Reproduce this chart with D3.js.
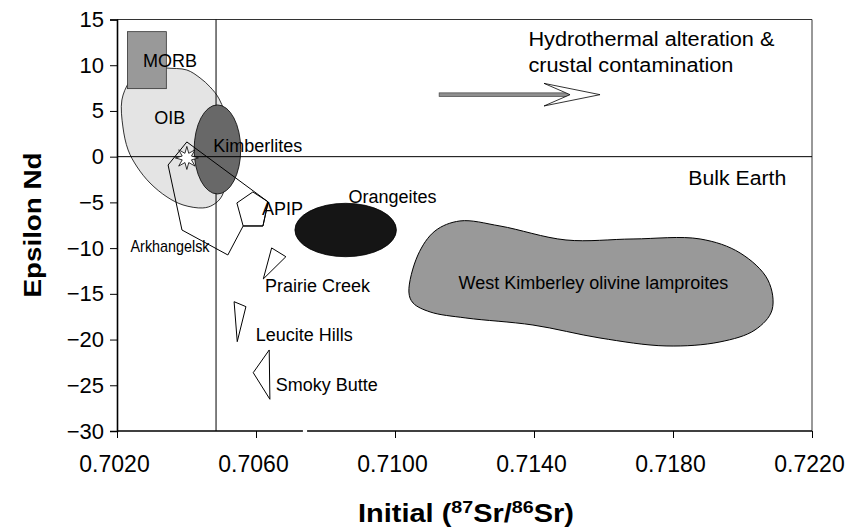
<!DOCTYPE html>
<html>
<head>
<meta charset="utf-8">
<script src="https://cdn.jsdelivr.net/npm/d3@7"></script>
<style>
body{margin:0;background:#fff;}
svg text{font-family:"Liberation Sans",Arial,sans-serif;fill:#000;}
</style>
</head>
<body>
<div id="chart"></div>
<script>
// axes
var srTicks=[0.7020,0.7060,0.7100,0.7140,0.7180,0.7220];
var ndTicks=[15,10,5,0,-5,-10,-15,-20,-25,-30];
var bulkEarthSr=0.70485;
var bulkEarthNd=0;
var axisGap=[0.70735,0.70747];

// fields  [87Sr/86Sr, eNd]
var morb=[[0.70230,7.44],[0.70342,13.67]];
var oib=[[0.70266,9.48],[0.70300,9.92],[0.70341,9.70],[0.70401,9.48],[0.70439,8.61],[0.70468,7.62],
  [0.70494,6.31],[0.70519,3.47],[0.70522,-0.36],[0.70502,-4.30],[0.70476,-5.28],[0.70447,-5.61],
  [0.70390,-5.28],[0.70344,-4.41],[0.70295,-2.88],[0.70258,-1.13],[0.70232,0.73],[0.70217,3.25],
  [0.70214,6.20],[0.70235,8.17]];
var kimberlites={sr:0.70489,nd:0.79,dSr:0.00067,dNd:4.87};
var orangeites={sr:0.70858,nd:-8.02,dSr:0.00146,dNd:2.92};
var westKimberley=[[0.71040,-14.80],[0.71066,-10.75],[0.71115,-8.13],[0.71187,-7.03],[0.71302,-7.58],
  [0.71492,-9.11],[0.71685,-9.00],[0.71878,-9.00],[0.71993,-10.53],[0.72073,-13.48],[0.72085,-16.77],
  [0.72036,-18.95],[0.71935,-20.26],[0.71780,-20.70],[0.71590,-19.83],[0.71397,-18.41],[0.71204,-17.64],
  [0.71101,-16.98],[0.71052,-16.00]];
var arkhangelsk=[[0.70401,1.61],[0.70635,-4.95],[0.70620,-7.58],[0.70563,-7.58],[0.70519,-10.75],[0.70387,-8.02],[0.70347,-0.91]];
var apip=[[0.70545,-5.06],[0.70591,-3.86],[0.70635,-4.95],[0.70620,-7.58],[0.70563,-7.58]];
var prairieCreek=[[0.70645,-9.98],[0.70686,-10.94],[0.70621,-13.37]];
var leuciteHills=[[0.70537,-15.86],[0.70571,-16.40],[0.70546,-20.23]];
var smokyButte=[[0.70638,-21.14],[0.70592,-23.62],[0.70640,-26.53]];
var starPoint=[0.70401,-0.14];
var arrowFrom=[0.71127,6.78];
var arrowTo=[0.71590,6.78];

// labels [text, sr, eNd]
var fieldLabels=[["MORB",0.70275,9.81],["OIB",0.70307,3.58],["Kimberlites",0.70477,0.55],["APIP",0.70617,-6.38],
  ["Orangeites",0.70866,-5.03],["Prairie Creek",0.70626,-14.80],["Leucite Hills",0.70599,-20.16],
  ["Smoky Butte",0.70657,-25.62],["West Kimberley olivine lamproites",0.71183,-14.50]];
var arkLabel=["Arkhangelsk",0.70239,-10.39];
var bigLabels=[["Hydrothermal alteration &",0.71384,12.14],["crustal contamination",0.71384,9.30],["Bulk Earth",0.71844,-3.09]];

var width=847,height=528;
var x=d3.scaleLinear().domain([0.702,0.722]).range([117,812]);
var y=d3.scaleLinear().domain([-30,15]).range([431,19.5]);

var svg=d3.select("#chart").append("svg").attr("width",width).attr("height",height);

var line=d3.line().x(function(d){return x(d[0]);}).y(function(d){return y(d[1]);});

// OIB
svg.append("path").attr("d",line.curve(d3.curveCatmullRomClosed.alpha(0.5))(oib))
  .style("fill","#e4e4e4").style("stroke","#000").style("stroke-width",0.8);

// MORB
svg.append("rect")
  .attr("x",x(morb[0][0])).attr("y",y(morb[1][1]))
  .attr("width",x(morb[1][0])-x(morb[0][0])).attr("height",y(morb[0][1])-y(morb[1][1]))
  .style("fill","#999").style("stroke","#333").style("stroke-width",0.8);

// frame + reference lines
svg.append("line").attr("x1",x(0.702)).attr("x2",x(0.722)).attr("y1",y(15)).attr("y2",y(15)).style("stroke","#333").style("stroke-width",1);
svg.append("line").attr("x1",x(0.722)).attr("x2",x(0.722)).attr("y1",y(15)).attr("y2",y(-30)).style("stroke","#333").style("stroke-width",1);
svg.append("line").attr("x1",x(bulkEarthSr)).attr("x2",x(bulkEarthSr)).attr("y1",y(15)).attr("y2",y(-30)).style("stroke","#000").style("stroke-width",1);

// Kimberlites
svg.append("ellipse").attr("cx",x(kimberlites.sr)).attr("cy",y(kimberlites.nd))
  .attr("rx",x(kimberlites.sr+kimberlites.dSr)-x(kimberlites.sr))
  .attr("ry",y(kimberlites.nd-kimberlites.dNd)-y(kimberlites.nd))
  .style("fill","#686868").style("stroke","#000").style("stroke-width",0.8);

svg.append("line").attr("x1",x(0.702)).attr("x2",x(0.722)).attr("y1",y(bulkEarthNd)).attr("y2",y(bulkEarthNd)).style("stroke","#000").style("stroke-width",1);

// Orangeites
svg.append("ellipse").attr("cx",x(orangeites.sr)).attr("cy",y(orangeites.nd))
  .attr("rx",x(orangeites.sr+orangeites.dSr)-x(orangeites.sr))
  .attr("ry",y(orangeites.nd-orangeites.dNd)-y(orangeites.nd))
  .style("fill","#151515").style("stroke","#000").style("stroke-width",0.8);

// West Kimberley
svg.append("path").attr("d",line.curve(d3.curveCatmullRomClosed.alpha(0.5))(westKimberley))
  .style("fill","#999").style("stroke","#000").style("stroke-width",1);

// outline polygons
line.curve(d3.curveLinearClosed);
[arkhangelsk,apip,prairieCreek,leuciteHills,smokyButte].forEach(function(p){
  svg.append("path").attr("d",line(p)).style("fill","none").style("stroke","#000").style("stroke-width",1);
});

// star
var starPts=d3.range(16).map(function(i){return [i*Math.PI/8, i%2?5:11.5];});
svg.append("path")
  .attr("transform","translate("+x(starPoint[0])+","+y(starPoint[1])+")")
  .attr("d",d3.lineRadial().curve(d3.curveLinearClosed)(starPts))
  .style("fill","#fff").style("stroke","#000").style("stroke-width",0.8);

// arrow
var ax1=x(arrowFrom[0]),ax2=x(arrowTo[0]),ay=y(arrowTo[1]);
svg.append("rect").attr("x",ax1).attr("y",ay-1.8).attr("width",ax2-30-ax1).attr("height",3.6)
  .style("fill","#8f8f8f").style("stroke","#444").style("stroke-width",0.7);
svg.append("path")
  .attr("d","M"+(ax2-56)+","+(ay-11.3)+"L"+ax2+","+ay+"L"+(ax2-56)+","+(ay+11.3)+"L"+(ax2-30)+","+ay+"Z")
  .style("fill","#fff").style("stroke","#000").style("stroke-width",0.8);

// labels
svg.selectAll(".flab").data(fieldLabels).enter().append("text").attr("class","flab")
  .attr("x",function(d){return x(d[1]);}).attr("y",function(d){return y(d[2]);})
  .style("font-size","18px").text(function(d){return d[0];});
svg.append("text").attr("x",x(arkLabel[1])).attr("y",y(arkLabel[2]))
  .attr("textLength",79).attr("lengthAdjust","spacingAndGlyphs")
  .style("font-size","17px").text(arkLabel[0]);
var bigW={"Hydrothermal alteration &":246,"crustal contamination":205,"Bulk Earth":98};
svg.selectAll(".blab").data(bigLabels).enter().append("text").attr("class","blab")
  .attr("x",function(d){return x(d[1]);}).attr("y",function(d){return y(d[2]);})
  .attr("textLength",function(d){return bigW[d[0]];}).attr("lengthAdjust","spacingAndGlyphs")
  .style("font-size","20px").text(function(d){return d[0];});

// axes
var xAxis=svg.append("g").attr("transform","translate(0,"+y(-30)+")")
  .call(d3.axisBottom(x).tickValues(srTicks).tickFormat(d3.format(".4f")).tickSize(7).tickPadding(18));
xAxis.select(".domain").remove();
xAxis.selectAll("text").attr("dx","-3").style("font-size","23px");
xAxis.selectAll("line").style("stroke","#000");
svg.append("line").attr("x1",x(0.702)).attr("x2",x(axisGap[0])).attr("y1",y(-30)).attr("y2",y(-30)).style("stroke","#000").style("stroke-width",1.6);
svg.append("line").attr("x1",x(axisGap[1])).attr("x2",x(0.722)).attr("y1",y(-30)).attr("y2",y(-30)).style("stroke","#000").style("stroke-width",1.6);

var yAxis=svg.append("g").attr("transform","translate("+x(0.702)+",0)")
  .call(d3.axisLeft(y).tickValues(ndTicks).tickSize(7).tickPadding(6));
yAxis.select(".domain").style("stroke","#000").style("stroke-width",1.6);
yAxis.selectAll("line").style("stroke","#000");
yAxis.selectAll("text").style("font-size","22px");
svg.selectAll(".tick text").style("font-family","'Liberation Sans',Arial,sans-serif").style("fill","#000");

// axis titles
svg.append("text").attr("transform","translate(41,225) rotate(-90)")
  .attr("text-anchor","middle").attr("textLength",145).attr("lengthAdjust","spacingAndGlyphs")
  .style("font-size","24px").style("font-weight","bold").text("Epsilon Nd");
var xt=svg.append("text").attr("x",358).attr("y",522)
  .attr("textLength",216).attr("lengthAdjust","spacingAndGlyphs")
  .style("font-size","25px").style("font-weight","bold");
xt.append("tspan").text("Initial (");
xt.append("tspan").attr("dy",-9).style("font-size","17px").text("87");
xt.append("tspan").attr("dy",9).text("Sr/");
xt.append("tspan").attr("dy",-9).style("font-size","17px").text("86");
xt.append("tspan").attr("dy",9).text("Sr)");
</script>
</body>
</html>
